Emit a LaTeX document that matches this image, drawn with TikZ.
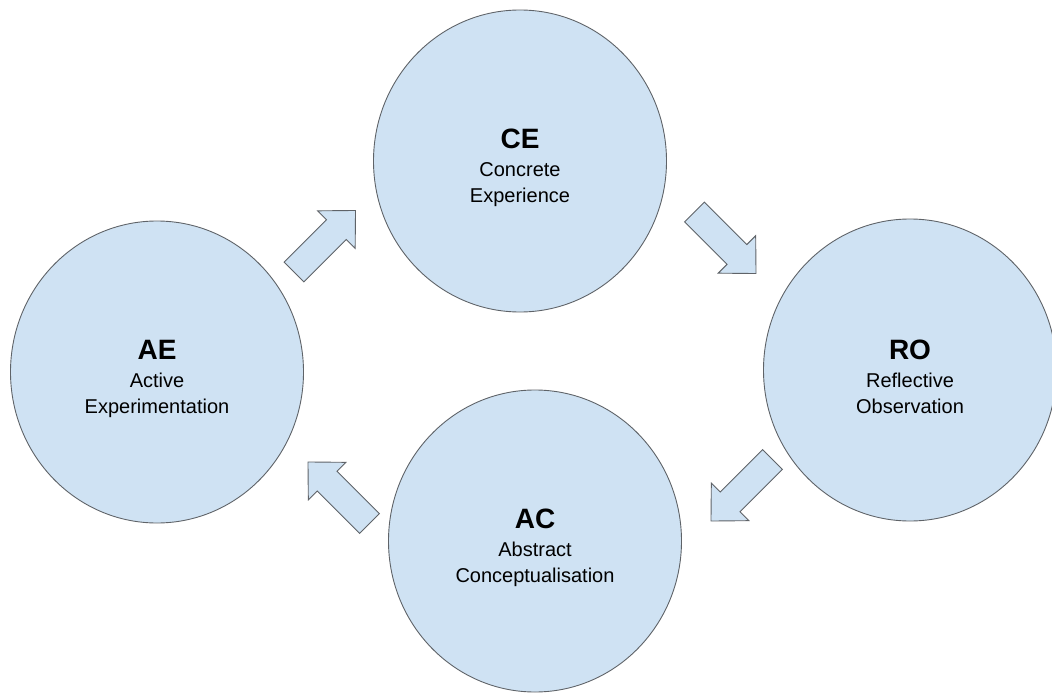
\documentclass[tikz,border=0pt]{standalone}
\usepackage{fontspec}
\setmainfont{Liberation Sans}
\usetikzlibrary{shapes.geometric}
\definecolor{stageblue}{HTML}{CFE2F3}
\definecolor{stageline}{HTML}{5F6368}
\tikzset{
  stage/.style={ellipse, draw=stageline, line width=0.9pt, fill=stageblue,
    minimum width=293pt, minimum height=302pt, inner sep=0pt, align=center,
    text=black, font=\fontsize{20}{26}\selectfont},
  pics/blockarrow/.style={code={
    \draw[draw=stageline, line width=0.9pt, fill=stageblue, line join=miter]
      (0,-14) -- (60,-14) -- (60,-26.5) -- (87,0) -- (60,26.5) -- (60,14)
      -- (0,14) -- cycle;
  }}
}
% bold stage code above its two-line name; the strut lowers the block a little
\newcommand{\stagetitle}[1]{{\fontsize{28}{30}\selectfont\bfseries\rule{0pt}{33pt}#1}\\[2pt]}
\begin{document}
\begin{tikzpicture}[x=1pt, y=-1pt]
  \useasboundingbox (0,0) rectangle (1052,693);

  % the four stages of the cycle
  \node[stage] (CE) at (520,161) {\stagetitle{CE}Concrete\\Experience};
  \node[stage] (RO) at (910,370) {\stagetitle{RO}Reflective\\Observation};
  \node[stage] (AC) at (535,541) {\stagetitle{AC}Abstract\\Conceptualisation};
  \node[stage] (AE) at (157,372) {\stagetitle{AE}Active\\Experimentation};

  % block arrows between the stages, placed at their tails
  \coordinate (tAE) at (294,272);
  \coordinate (tCE) at (694.5,212);
  \coordinate (tRO) at (772.5,459.5);
  \coordinate (tAC) at (369.5,523.5);
  \pic[rotate=45]   at (tAE) {blockarrow};
  \pic[rotate=-45]  at (tCE) {blockarrow};
  \pic[rotate=-135] at (tRO) {blockarrow};
  \pic[rotate=135]  at (tAC) {blockarrow};
\end{tikzpicture}
\end{document}
